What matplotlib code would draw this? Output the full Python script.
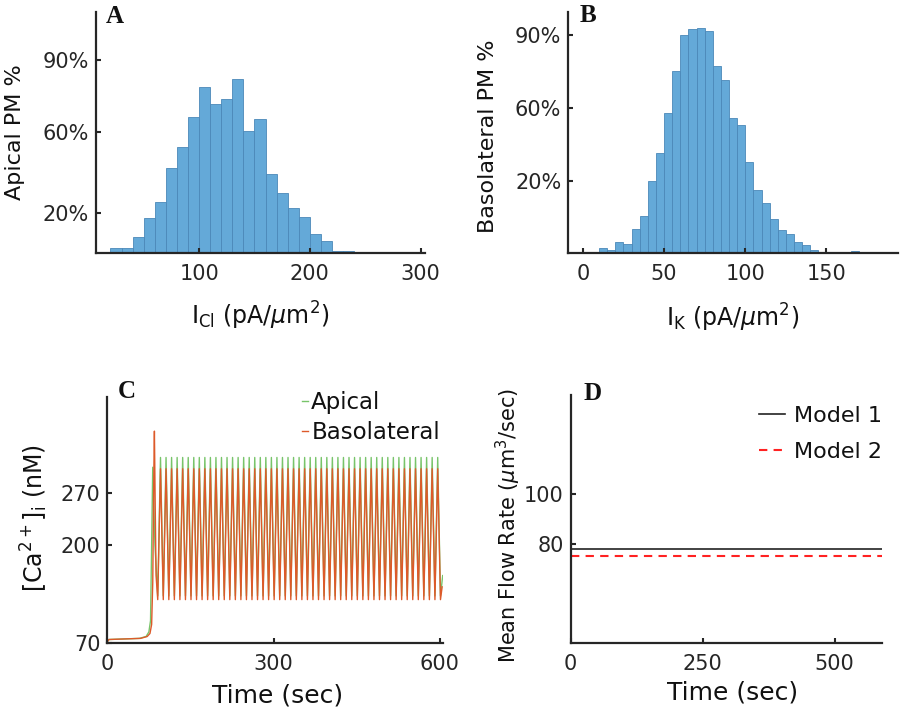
import numpy as np
import matplotlib
matplotlib.use("Agg")
import matplotlib.pyplot as plt

# ---- données ----
# A : histogramme I_Cl (bacs de 10)
cl_edges = [20, 30, 40, 50, 60, 70, 80, 90, 100, 110, 120, 130, 140, 150, 160,
            170, 180, 190, 200, 210, 220, 230, 240]
cl_counts = [5, 5, 16, 35, 51, 85, 106, 136, 166, 149, 154, 174, 122, 134, 79,
             60, 45, 36, 19, 12, 2, 2]
cl_yticks = [40, 121, 193]
cl_yticklabels = ['20%', '60%', '90%']

# B : histogramme I_K (bacs de 5)
k_edges = [10, 15, 20, 25, 30, 35, 40, 45, 50, 55, 60, 65, 70, 75, 80, 85, 90,
           95, 100, 105, 110, 115, 120, 125, 130, 135, 140, 145, 150, 155, 160,
           165, 170, 175]
k_counts = [5, 3, 11, 9, 24, 37, 72, 100, 140, 182, 218, 224, 225, 222, 187,
            173, 135, 128, 91, 63, 50, 34, 23, 19, 11, 8, 3, 0, 0, 0, 0, 2, 1]
k_yticks = [72, 145, 218]
k_yticklabels = ['20%', '60%', '90%']

# C : [Ca2+]i, phase initiale puis oscillations
start_t_baso = [0, 3, 60, 72, 77, 80, 82, 84, 85, 86.5, 88, 91]
start_c_baso = [72, 75, 76.5, 79, 83, 95, 150, 300, 352, 250, 160, 128]
start_t_api = [0, 3, 58, 70, 75, 78, 80, 82, 86, 91]
start_c_api = [72, 75, 76.5, 79, 85, 100, 200, 304, 200, 133]
peak_times = [96, 106, 116, 126, 136, 146, 156, 166, 176, 186, 196, 206, 216,
              226, 236, 246, 256, 266, 276, 286, 296, 306, 316, 326, 336, 346,
              356, 366, 376, 386, 396, 406, 416, 426, 436, 446, 456, 466, 476,
              486, 496, 506, 516, 526, 536, 546, 556, 566, 576, 586, 596]
trough_times = [101, 111, 121, 131, 141, 151, 161, 171, 181, 191, 201, 211,
                221, 231, 241, 251, 261, 271, 281, 291, 301, 311, 321, 331, 341,
                351, 361, 371, 381, 391, 401, 411, 421, 431, 441, 451, 461, 471,
                481, 491, 501, 511, 521, 531, 541, 551, 561, 571, 581, 591, 601]
peak_baso, trough_baso, end_baso = 302, 128, (604, 145)
peak_api, trough_api, end_api = 317, 133, (605, 160)

# D : débit moyen
flow_t = [0, 590]
flow_model1 = [78, 78]
flow_model2 = [75, 75]


def trace(t0, c0, peak, trough, end):
    t = list(t0)
    c = list(c0)
    for tp, tt in zip(peak_times, trough_times):
        t += [tp, tt]
        c += [peak, trough]
    t.append(end[0])
    c.append(end[1])
    return t, c


plt.rcParams['font.family'] = 'DejaVu Sans'
plt.rcParams['mathtext.fontset'] = 'dejavusans'
axcol = '#262626'
plt.rcParams['axes.edgecolor'] = axcol
plt.rcParams['xtick.color'] = axcol
plt.rcParams['ytick.color'] = axcol
plt.rcParams['text.color'] = '#111111'
plt.rcParams['axes.labelcolor'] = '#111111'

fig = plt.figure(figsize=(9, 7.13), dpi=100)

axA = fig.add_axes([0.1067, 0.6452, 0.3656, 0.338])
axB = fig.add_axes([0.6314, 0.6447, 0.3663, 0.3388])
axC = fig.add_axes([0.1192, 0.0978, 0.3733, 0.345])
axD = fig.add_axes([0.6341, 0.0978, 0.3462, 0.3483])

for ax in (axA, axB, axC, axD):
    ax.spines['top'].set_visible(False)
    ax.spines['right'].set_visible(False)
    ax.spines['left'].set_linewidth(1.6)
    ax.spines['bottom'].set_linewidth(1.6)
    ax.tick_params(direction='in', length=3.5, width=1.5, labelsize=15)
    ax.tick_params(axis='x', pad=8)
    ax.tick_params(axis='y', pad=5)

barcol = '#64a9d8'
edgecol = '#4b88b8'

# A
axA.bar(cl_edges[:-1], cl_counts, width=np.diff(cl_edges), align='edge',
        color=barcol, edgecolor=edgecol, linewidth=0.6)
axA.set_xlim(7, 304)
axA.set_ylim(0, 241)
axA.set_xticks([100, 200, 300])
axA.set_yticks(cl_yticks)
axA.set_yticklabels(cl_yticklabels)
axA.set_xlabel(r'$\mathregular{I_{Cl}}$ (pA/$\mu$m$^2$)', fontsize=17)
axA.set_ylabel('Apical PM %', fontsize=16)
axA.xaxis.set_label_coords(0.498, -0.195)
axA.yaxis.set_label_coords(-0.215, 0.5)

# B
axB.bar(k_edges[:-1], k_counts, width=np.diff(k_edges), align='edge',
        color=barcol, edgecolor=edgecol, linewidth=0.6)
axB.set_xlim(-9, 194)
axB.set_ylim(0, 241.6)
axB.set_xticks([0, 50, 100, 150])
axB.set_yticks(k_yticks)
axB.set_yticklabels(k_yticklabels)
axB.set_xlabel(r'$\mathregular{I_{K}}$ (pA/$\mu$m$^2$)', fontsize=17)
axB.set_ylabel('Basolateral PM %', fontsize=16)
axB.xaxis.set_label_coords(0.498, -0.2)
axB.yaxis.set_label_coords(-0.212, 0.486)

# C
t_api, c_api = trace(start_t_api, start_c_api, peak_api, trough_api, end_api)
t_bas, c_bas = trace(start_t_baso, start_c_baso, peak_baso, trough_baso, end_baso)
axC.plot(t_api, c_api, color='#78c46a', lw=1.0, label='Apical')
axC.plot(t_bas, c_bas, color='#dd5a2a', lw=1.0, label='Basolateral')
axC.set_xlim(0, 606)
axC.set_ylim(70, 397)
axC.set_xticks([0, 300, 600])
axC.set_yticks([70, 200, 270])
axC.set_xlabel('Time (sec)', fontsize=18)
axC.set_ylabel(r'[Ca$^{2+}$]$_\mathregular{i}$ (nM)', fontsize=17)
axC.xaxis.set_label_coords(0.507, -0.165)
axC.yaxis.set_label_coords(-0.171, 0.508)
axC.legend(loc='upper right', bbox_to_anchor=(0.99, 1.025), frameon=False,
           fontsize=16.5, handlelength=0.25, handletextpad=0.15,
           labelspacing=0.3, borderaxespad=0.0, borderpad=0.0)

# D
axD.plot(flow_t, flow_model1, color='#222222', lw=1.2, label='Model 1')
axD.plot(flow_t, flow_model2, color='#ff2222', lw=1.5, ls=(0, (4, 3)),
         label='Model 2')
axD.set_xlim(0, 590)
axD.set_ylim(40, 140)
axD.set_xticks([0, 250, 500])
axD.set_yticks([80, 100])
axD.set_xlabel('Time (sec)', fontsize=18)
axD.set_ylabel(r'Mean Flow Rate ($\mu$m$^3$/sec)', fontsize=15)
axD.xaxis.set_label_coords(0.519, -0.148)
axD.yaxis.set_label_coords(-0.154, 0.473)
axD.legend(loc='upper right', bbox_to_anchor=(1.0, 0.955), frameon=False,
           fontsize=16, handlelength=1.2, handletextpad=0.4,
           labelspacing=0.7, borderaxespad=0.0, borderpad=0.0)

# lettres des panneaux
for x, y, s in [(0.1178, 0.9677, 'A'), (0.6444, 0.9691, 'B'),
                (0.1311, 0.4418, 'C'), (0.6478, 0.439, 'D')]:
    fig.text(x, y, s, fontsize=18, fontweight='bold', family='Liberation Serif',
             va='baseline', ha='left', color='#111111')

fig.savefig('out.png', dpi=100)
